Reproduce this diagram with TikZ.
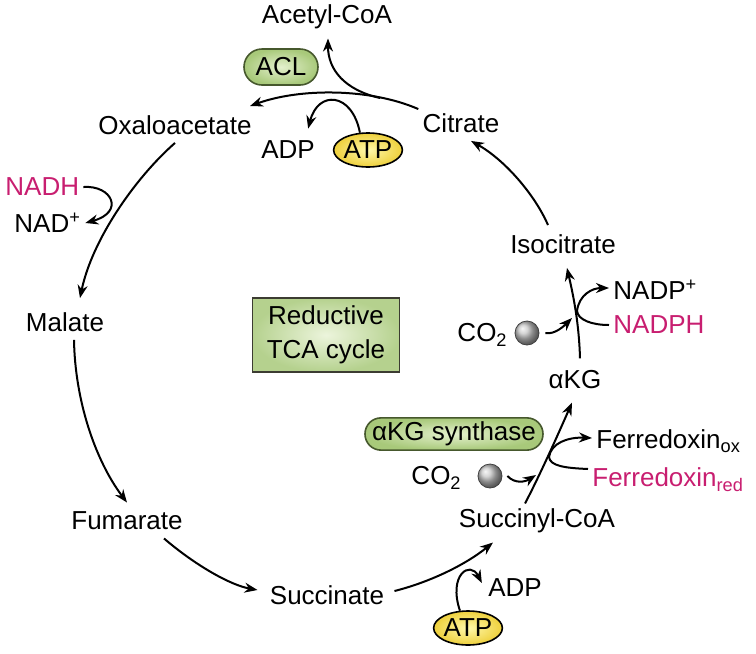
\documentclass[tikz,border=0pt]{standalone}
\usepackage{fontspec}
\setmainfont{Liberation Sans}
\usetikzlibrary{arrows.meta,shapes.geometric,calc}
\definecolor{nadred}{RGB}{200,30,112}
\definecolor{pilllight}{RGB}{228,240,205}
\definecolor{pilldark}{RGB}{168,201,122}
\definecolor{pilledge}{RGB}{70,88,45}
\definecolor{boxedge}{RGB}{60,60,50}
\definecolor{atplight}{RGB}{255,248,170}
\definecolor{atpdark}{RGB}{238,208,60}

\begin{document}
\begin{tikzpicture}[x=0.5pt,y=-0.5pt]
	\tikzstyle{every node}=[font=\fontsize{13}{16}\selectfont, inner sep=2pt];
	\tikzstyle{rxn}=[line width=1pt, -{Stealth[length=6.5pt,width=5pt]}];
	\tikzstyle{enzyme}=[draw=pilledge, line width=0.8pt, inner color=pilllight, outer color=pilldark];
	\tikzstyle{atp}=[ellipse, draw, line width=0.8pt, inner color=atplight, outer color=atpdark, minimum width=32pt, minimum height=17pt, inner sep=0pt];
	\tikzstyle{reduced}=[text=nadred];
	\tikzstyle{co2ball}=[circle, draw=gray!50!black, line width=0.4pt, minimum size=12pt, inner sep=0pt, ball color=gray!45];
	\useasboundingbox (0,0) rectangle (756,654);

	\node (acetyl) at (327,17) {Acetyl-CoA};
	\node[enzyme, rounded corners=9pt, minimum width=37pt, minimum height=18pt] (acl) at (281,67) {ACL};
	\node (oxa) at (175,125) {Oxaloacetate};
	\node (cit) at (461,123) {Citrate};
	\node (adpT) at (288,150) {ADP};
	\node[atp] (atpT) at (368,150) {ATP};
	\node[reduced, anchor=west] (nadh) at (1,187) {NADH};
	\node[anchor=west] (nad) at (10,223) {NAD\textsuperscript{+}};
	\node (malate) at (65,322) {Malate};
	\node[draw=boxedge, line width=0.9pt, inner color=pilllight!70!white, outer color=pilldark!85!white, minimum width=73.5pt, minimum height=37pt, align=center, font=\fontsize{13}{17}\selectfont] (box) at (326,335) {Reductive\\TCA cycle};
	\node (fum) at (127,521) {Fumarate};
	\node (succ) at (327,595) {Succinate};
	\node (adpB) at (515,588) {ADP};
	\node[atp] (atpB) at (468,628) {ATP};
	\node (sucoa) at (537,521) {Succinyl-CoA};
	\node[enzyme, rounded corners=8pt, minimum width=89pt, minimum height=16pt] (kgs) at (454,434) {αKG synthase};
	\node[co2ball] (ballB) at (490,476) {};
	\node[anchor=east] (co2B) at (466,478) {CO\textsubscript{2}};
	\node[anchor=west] (fdox) at (592,441) {Ferredoxin\textsubscript{ox}};
	\node[reduced, anchor=west] (fdred) at (588,480) {Ferredoxin\textsubscript{red}};
	\node (akg) at (575,380) {αKG};
	\node[co2ball] (ballA) at (527,333) {};
	\node[anchor=east] (co2A) at (512,335) {CO\textsubscript{2}};
	\node[anchor=west] (nadpp) at (609,290) {NADP\textsuperscript{+}};
	\node[reduced, anchor=west] (nadph) at (609,325) {NADPH};
	\node (isocit) at (563,244) {Isocitrate};

	\coordinate (acbr) at (380,98);
	\coordinate (kgA) at (536,475);
	\coordinate (fdj) at (549,457);
	\coordinate (kgB) at (572,318);
	\coordinate (nadj) at (577,311);

	\draw[rxn] (cit.north west) .. controls (370,88) and (300,88) .. ($(oxa.north east)+(-6,-5)$);
	\draw[rxn] (acbr) .. controls (345,90) and (328,70) .. ($(acetyl.south)+(1,5)$);
	\draw[rxn] (atpT.115) .. controls (352,92) and (318,90) .. ($(adpT.north east)+(-11,-8)$);
	\draw[rxn] ($(isocit.north)+(-15,-5)$) .. controls (535,195) and (505,160) .. ($(cit.south)+(10,4)$);
	\draw[rxn] ($(oxa.south)+(0,4)$) .. controls (135,178) and (92,240) .. ($(malate.north)+(15,-10)$);
	\draw[rxn] (nadh.east) .. controls (112,185) and (125,212) .. (nad.east);
	\draw[rxn] ($(malate.south)+(9,4)$) .. controls (75,400) and (95,460) .. ($(fum.north)+(0,-5)$);
	\draw[rxn] ($(fum.south)+(37,4)$) .. controls (195,565) and (230,585) .. ($(succ.west)+(-8,-5)$);
	\draw[rxn] ($(succ.east)+(6,-4)$) .. controls (430,582) and (465,565) .. ($(sucoa.south)+(-44,5)$);
	\draw[rxn] (atpB.115) .. controls (448,575) and (470,560) .. ($(adpB.west)+(-2,-5)$);
	\draw[rxn] ($(sucoa.north)+(-12,-1)$) .. controls (540,475) and (560,430) .. ($(akg.south)+(-3,9)$);
	\draw[rxn] ($(ballB.east)+(5,0)$) .. controls (515,484) and (525,482) .. (kgA);
	\draw[rxn] ($(fdred.west)+(0,-11)$) .. controls (565,468) and (550,466) .. (fdj) .. controls (551,443) and (568,437) .. ($(fdox.west)+(0,-3)$);
	\draw[rxn] ($(akg.north)+(5,-8)$) .. controls (579,320) and (572,290) .. ($(isocit.south)+(4,10)$);
	\draw[rxn] ($(ballA.east)+(6,0)$) .. controls (555,335) and (565,325) .. (kgB);
	\draw[rxn] (nadph.west) .. controls (592,325) and (578,320) .. (nadj) .. controls (579,295) and (592,288) .. ($(nadpp.west)+(0,-2)$);
\end{tikzpicture}
\end{document}
